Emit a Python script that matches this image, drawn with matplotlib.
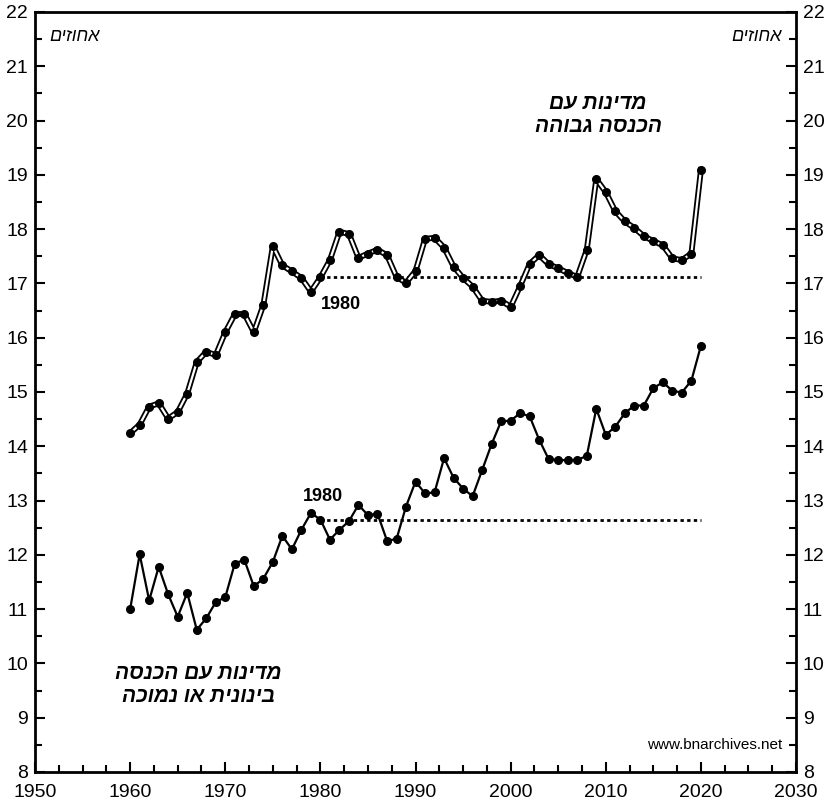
import numpy as np
import matplotlib
matplotlib.use('Agg')
import matplotlib.pyplot as plt
from matplotlib.ticker import MultipleLocator

plt.rcParams['font.family'] = ['Liberation Sans', 'DejaVu Sans']

# data (percent)
years = np.arange(1960, 2021)

high_income = [14.24, 14.40, 14.73, 14.79, 14.51, 14.63, 14.97, 15.55, 15.74, 15.68,
               16.10, 16.43, 16.44, 16.10, 16.60, 17.69, 17.33, 17.22, 17.10, 16.85,
               17.11, 17.43, 17.95, 17.91, 17.47, 17.55, 17.62, 17.52, 17.12, 17.01,
               17.23, 17.82, 17.84, 17.66, 17.31, 17.10, 16.94, 16.68, 16.66, 16.68,
               16.57, 16.95, 17.36, 17.52, 17.35, 17.28, 17.19, 17.12, 17.62, 18.92,
               18.68, 18.33, 18.14, 18.02, 17.87, 17.78, 17.70, 17.46, 17.43, 17.55,
               19.09]

low_income = [11.00, 12.01, 11.16, 11.78, 11.27, 10.86, 11.30, 10.62, 10.83, 11.13,
              11.22, 11.84, 11.91, 11.42, 11.56, 11.87, 12.35, 12.10, 12.46, 12.77,
              12.65, 12.28, 12.46, 12.62, 12.92, 12.73, 12.76, 12.26, 12.29, 12.89,
              13.35, 13.13, 13.15, 13.78, 13.42, 13.22, 13.08, 13.56, 14.04, 14.46,
              14.47, 14.61, 14.55, 14.12, 13.76, 13.75, 13.74, 13.75, 13.82, 14.69,
              14.21, 14.36, 14.61, 14.75, 14.75, 15.07, 15.18, 15.02, 14.99, 15.21,
              15.85]

base_year = 1980
end_year = 2020

def rtl(s):
    # matplotlib has no bidi, flip each line by hand
    return '\n'.join(line[::-1] for line in s.split('\n'))

fig = plt.figure(figsize=(8.36, 8.06), dpi=100)
ax = fig.add_axes([0.0419, 0.0422, 0.9103, 0.9430])

high_base = high_income[list(years).index(base_year)]
low_base = low_income[list(years).index(base_year)]

# base-year reference lines
ax.plot([base_year, end_year], [high_base, high_base], color='black', lw=2.0, ls=(0, (1.2, 1.2)))
ax.plot([base_year, end_year], [low_base, low_base], color='black', lw=2.0, ls=(0, (1.2, 1.2)))

# high income: double line
ax.plot(years, high_income, color='black', lw=4.2, solid_joinstyle='round')
ax.plot(years, high_income, color='white', lw=1.6, solid_joinstyle='round')
ax.plot(years, high_income, ls='none', marker='o', ms=5.5, color='black')

# middle / low income
ax.plot(years, low_income, color='black', lw=1.6, marker='o', ms=5.5)

ax.set_xlim(1950, 2030)
ax.set_ylim(8, 22)
ax.xaxis.set_major_locator(MultipleLocator(10))
ax.xaxis.set_minor_locator(MultipleLocator(2.5))
ax.yaxis.set_major_locator(MultipleLocator(1))
ax.yaxis.set_minor_locator(MultipleLocator(0.5))
ax.tick_params(which='both', direction='in', left=True, right=True, bottom=True, top=False,
               labelleft=True, labelright=True, labelsize=14, width=1.5)
ax.tick_params(axis='y', which='both', pad=5)
ax.tick_params(axis='x', which='both', pad=9)
ax.tick_params(which='major', length=7)
ax.tick_params(which='minor', length=5)
for sp in ax.spines.values():
    sp.set_linewidth(2)

ax.text(1982.2, 16.62, '1980', fontsize=13, fontweight='bold', ha='center', va='center')
ax.text(1980.3, 13.08, '1980', fontsize=13, fontweight='bold', ha='center', va='center')

ax.text(2009.2, 20.1, rtl('מדינות עם\nהכנסה גבוהה'), fontsize=15, fontweight='bold',
        style='italic', ha='center', va='center', linespacing=1.25)
ax.text(1967.2, 9.6, rtl('מדינות עם הכנסה\nבינונית או נמוכה'), fontsize=15, fontweight='bold',
        style='italic', ha='center', va='center', linespacing=1.25)

ax.text(1951.5, 21.55, rtl('אחוזים'), fontsize=13, style='italic', ha='left', va='center')
ax.text(2028.5, 21.55, rtl('אחוזים'), fontsize=13, style='italic', ha='right', va='center')

ax.text(2028.5, 8.5, 'www.bnarchives.net', fontsize=11, ha='right', va='center')

fig.savefig('out.png', dpi=100)
